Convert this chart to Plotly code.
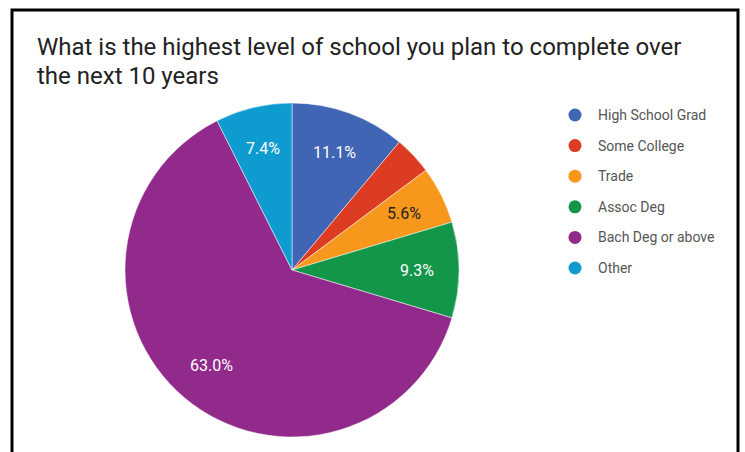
import math
import plotly.graph_objects as go

labels = ["High School Grad", "Some College", "Trade", "Assoc Deg", "Bach Deg or above", "Other"]
counts = [6, 2, 3, 5, 34, 4]
colors = ["#4065B4", "#DC3C22", "#F7981D", "#13964A", "#922A8C", "#0E9BD0"]
label_colors = ["#ffffff", "#ffffff", "#222222", "#ffffff", "#ffffff", "#ffffff"]
title_lines = ["What is the highest level of school you plan to complete over", "the next 10 years"]

W, H = 745, 452
CX, CY, R = 292, 270, 167  # pie centre / radius in pixels (layout)
total = sum(counts)

fig = go.Figure()
fig.add_trace(go.Pie(
    labels=labels,
    values=counts,
    textinfo="none",
    sort=False,
    direction="clockwise",
    rotation=0,
    marker=dict(colors=colors, line=dict(color="#ffffff", width=0.5)),
    domain=dict(x=[(CX - R) / W, (CX + R) / W], y=[1 - (CY + R) / H, 1 - (CY - R) / H]),
    showlegend=False,
    hoverinfo="label+percent",
))

shapes = [dict(type="rect", xref="paper", yref="paper",
               x0=12 / W, x1=738 / W, y0=-0.1, y1=1 - 10 / H,
               line=dict(color="#000000", width=3), fillcolor="rgba(0,0,0,0)")]
annotations = []
for i, line in enumerate(title_lines):
    annotations.append(dict(text=line, xref="paper", yref="paper",
                            x=35 / W, y=1 - (47 + i * 29) / H, xanchor="left", yanchor="middle",
                            align="left", showarrow=False,
                            font=dict(family="Roboto", size=24, color="#222222")))

# slice labels along each slice bisector
cum = 0
for c, tc in zip(counts, label_colors):
    frac = c / total
    mid = (cum + c / 2) / total * 2 * math.pi
    cum += c
    if frac < 0.05:
        continue
    rf = 0.75 * R
    px = CX + rf * math.sin(mid)
    py = CY - rf * math.cos(mid)
    annotations.append(dict(text=f"{frac * 100:.1f}%", xref="paper", yref="paper",
                            x=px / W, y=1 - py / H, xanchor="center", yanchor="middle",
                            showarrow=False,
                            font=dict(family="Roboto", size=16, color=tc)))

for i, (lab, col) in enumerate(zip(labels, colors)):
    cy = 115 + i * 30.6
    shapes.append(dict(type="circle", xref="paper", yref="paper",
                       x0=(575 - 6.5) / W, x1=(575 + 6.5) / W,
                       y0=1 - (cy + 6.5) / H, y1=1 - (cy - 6.5) / H,
                       fillcolor=col, line=dict(width=0)))
    annotations.append(dict(text=lab, xref="paper", yref="paper",
                            x=596 / W, y=1 - cy / H, xanchor="left", yanchor="middle",
                            showarrow=False,
                            font=dict(family="Roboto", size=14, color="#555555")))

fig.update_layout(
    width=W, height=H,
    margin=dict(l=0, r=0, t=0, b=0),
    paper_bgcolor="#ffffff",
    plot_bgcolor="#ffffff",
    shapes=shapes,
    annotations=annotations,
    showlegend=False,
)

fig.write_html("out.html")
